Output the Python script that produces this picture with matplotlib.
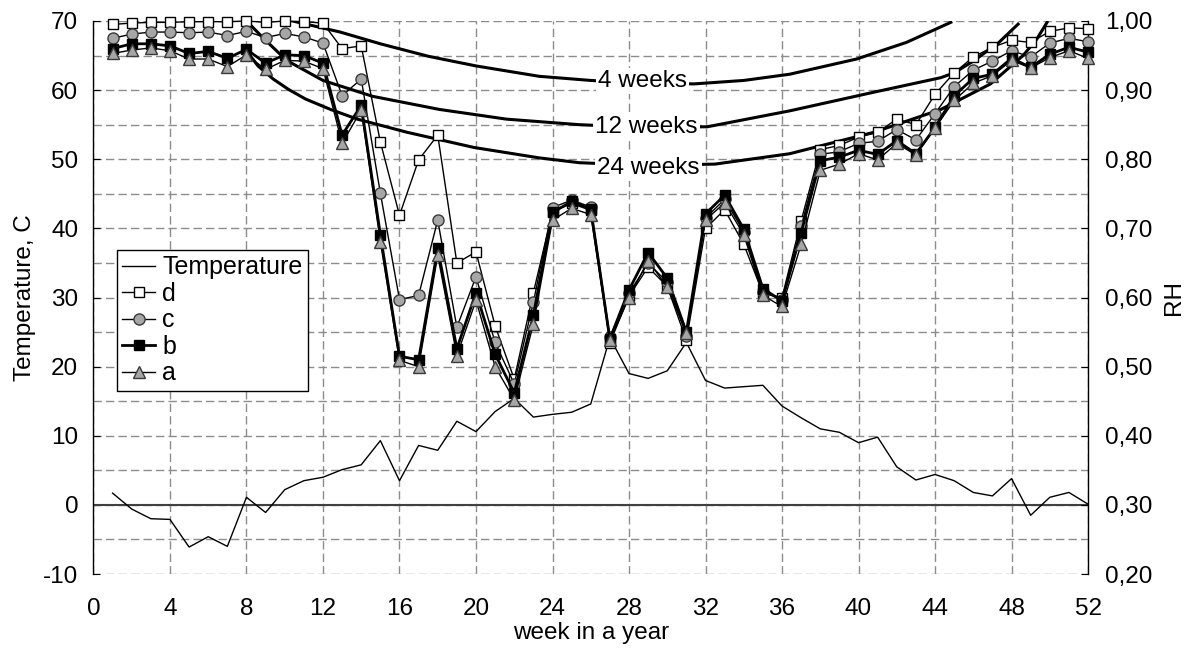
import matplotlib
matplotlib.use("Agg")
import matplotlib.pyplot as plt
from matplotlib.ticker import MultipleLocator, FuncFormatter

plt.rcParams['font.family'] = ['Liberation Sans', 'DejaVu Sans']
plt.rcParams['axes.unicode_minus'] = False

# ---------------- data ----------------
weeks = list(range(1, 53))

temperature = [1.7, -0.6, -2.0, -2.1, -6.1, -4.6, -6.0, 1.1, -1.1, 2.2,
               3.5, 4.0, 5.1, 5.8, 9.3, 3.5, 8.6, 7.9, 12.1, 10.6,
               13.5, 15.4, 12.7, 13.1, 13.4, 14.6, 24.2, 19.0, 18.3, 19.4,
               23.5, 18.0, 16.9, 17.1, 17.3, 14.3, 12.6, 11.0, 10.5, 9.0,
               9.8, 5.5, 3.6, 4.4, 3.5, 1.8, 1.3, 3.8, -1.5, 1.1,
               1.8, 0.1]

rh_d = [0.995, 0.997, 0.998, 0.998, 0.999, 0.999, 0.999, 1.000, 0.998, 1.000,
        0.999, 0.997, 0.960, 0.964, 0.825, 0.719, 0.799, 0.835, 0.650, 0.666,
        0.559, 0.482, 0.607, 0.724, 0.736, 0.726, 0.534, 0.602, 0.644, 0.616,
        0.538, 0.700, 0.727, 0.677, 0.606, 0.600, 0.711, 0.814, 0.820, 0.832,
        0.839, 0.858, 0.850, 0.894, 0.925, 0.948, 0.962, 0.972, 0.969, 0.985,
        0.990, 0.989]
rh_c = [0.975, 0.981, 0.984, 0.984, 0.983, 0.984, 0.979, 0.985, 0.976, 0.982,
        0.977, 0.968, 0.892, 0.916, 0.751, 0.597, 0.603, 0.712, 0.557, 0.630,
        0.535, 0.475, 0.593, 0.730, 0.741, 0.731, 0.543, 0.606, 0.650, 0.622,
        0.545, 0.715, 0.742, 0.695, 0.608, 0.597, 0.703, 0.807, 0.811, 0.823,
        0.826, 0.843, 0.828, 0.866, 0.905, 0.929, 0.942, 0.957, 0.948, 0.968,
        0.975, 0.970]
rh_b = [0.960, 0.967, 0.967, 0.964, 0.953, 0.956, 0.946, 0.959, 0.939, 0.951,
        0.950, 0.939, 0.835, 0.878, 0.691, 0.515, 0.510, 0.671, 0.526, 0.607,
        0.518, 0.462, 0.574, 0.723, 0.739, 0.728, 0.540, 0.611, 0.665, 0.628,
        0.550, 0.721, 0.748, 0.699, 0.613, 0.595, 0.694, 0.798, 0.803, 0.813,
        0.807, 0.827, 0.808, 0.846, 0.892, 0.917, 0.923, 0.946, 0.933, 0.952,
        0.962, 0.955]
rh_a = [0.953, 0.958, 0.961, 0.957, 0.945, 0.945, 0.934, 0.951, 0.930, 0.943,
        0.942, 0.931, 0.823, 0.871, 0.681, 0.509, 0.500, 0.661, 0.516, 0.596,
        0.500, 0.452, 0.562, 0.712, 0.729, 0.720, 0.538, 0.600, 0.653, 0.615,
        0.549, 0.712, 0.737, 0.691, 0.603, 0.587, 0.677, 0.784, 0.793, 0.808,
        0.799, 0.823, 0.806, 0.845, 0.885, 0.910, 0.921, 0.943, 0.932, 0.947,
        0.957, 0.946]

# limit curves (RH)
c4_weeks = [10.1, 12.9, 15.0, 17.5, 20.0, 23.3, 26.0, 28.7, 31.4, 34.0, 36.4, 39.9, 42.5, 44.9]
c4_rh = [1.002, 0.984, 0.967, 0.949, 0.935, 0.920, 0.914, 0.910, 0.909, 0.914, 0.923, 0.945, 0.969, 0.999]

c12_weeks = [8.0, 9.0, 10.1, 12.0, 14.6, 18.1, 21.6, 25.4, 28.8, 32.1, 36.4, 40.8, 44.3, 45.0, 46.0, 47.3, 48.4]
c12_rh = [1.000, 0.972, 0.943, 0.914, 0.891, 0.872, 0.858, 0.850, 0.846, 0.847, 0.870, 0.897, 0.918, 0.925, 0.942, 0.968, 0.997]

c24_weeks = [8.0, 8.6, 9.4, 10.2, 11.1, 12.4, 13.8, 16.4, 19.9, 23.3, 25.4, 29.0, 32.5, 36.4,
             40.8, 44.3, 46.9, 48.6, 49.3, 49.9]
c24_rh = [0.957, 0.935, 0.916, 0.901, 0.887, 0.872, 0.858, 0.839, 0.817, 0.802, 0.795, 0.791,
          0.793, 0.808, 0.839, 0.872, 0.909, 0.950, 0.973, 1.000]

curve_labels = ["4 weeks", "12 weeks", "24 weeks"]
label_weeks = [28.7, 28.9, 29.0]
label_rh = [0.913, 0.846, 0.788]

x_ticks = list(range(0, 53, 4))
t_ticks = list(range(-10, 71, 10))

# ---------------- figure ----------------
FS = 17.5
fig = plt.figure(figsize=(11.92, 6.52), dpi=100)
ax = fig.add_axes([0.0784, 0.1196, 0.8344, 0.8482])
ax.set_xlim(0, 52)
ax.set_ylim(-10, 70)
ax.set_xticks(x_ticks)
ax.set_yticks(t_ticks)
ax.yaxis.set_minor_locator(MultipleLocator(5))

grid_kw = dict(color='#8c8c8c', linewidth=1.0, linestyle=(0, (6, 3)))
ax.grid(axis='y', which='both', **grid_kw)
ax.grid(axis='x', which='major', **grid_kw)
ax.set_axisbelow(True)

for s in ['top', 'bottom', 'right']:
    ax.spines[s].set_visible(False)
ax.spines['left'].set_color('black')
ax.spines['left'].set_linewidth(1.0)

ax.tick_params(axis='y', which='major', direction='in', length=5, pad=11, labelsize=FS)
ax.tick_params(axis='y', which='minor', length=0)
ax.tick_params(axis='x', length=0, pad=17, labelsize=FS)

ax.axhline(0, color='#404040', linewidth=1.5, zorder=1.5)

l_temp, = ax.plot(weeks, temperature, color='black', linewidth=1.0, label='Temperature', zorder=2)

ax.set_xlabel('week in a year', fontsize=FS, labelpad=2)
ax.set_ylabel('Temperature, C', fontsize=FS, labelpad=5)

ax2 = ax.twinx()
ax2.set_ylim(0.2, 1.0)
ax2.set_yticks([0.2 + 0.1 * i for i in range(9)])
ax2.yaxis.set_major_formatter(FuncFormatter(lambda v, p: f"{v:.2f}".replace('.', ',')))
for s in ['top', 'bottom', 'left']:
    ax2.spines[s].set_visible(False)
ax2.spines['right'].set_color('black')
ax2.spines['right'].set_linewidth(1.0)
ax2.tick_params(axis='y', direction='in', length=5, pad=12, labelsize=FS)
ax2.set_ylabel('RH', fontsize=FS, labelpad=8)

# limit curves
for cw, cr in [(c4_weeks, c4_rh), (c12_weeks, c12_rh), (c24_weeks, c24_rh)]:
    ax2.plot(cw, cr, color='black', linewidth=2.2, zorder=2, solid_capstyle='butt')
for txt, lw_, lr in zip(curve_labels, label_weeks, label_rh):
    ax2.text(lw_, lr, txt, ha='center', va='center', fontsize=FS, zorder=6,
             bbox=dict(facecolor='white', edgecolor='none', pad=1.5))

grey = '#a6a6a6'
edge = '#3a3a3a'
l_d, = ax2.plot(weeks, rh_d, color='black', linewidth=1.0, marker='s', markersize=7.5,
                markerfacecolor='white', markeredgecolor='black', markeredgewidth=1.0,
                label='d', zorder=3, clip_on=False)
l_c, = ax2.plot(weeks, rh_c, color='black', linewidth=1.0, marker='o', markersize=8,
                markerfacecolor=grey, markeredgecolor=edge, markeredgewidth=1.0,
                label='c', zorder=3.1, clip_on=False)
l_b, = ax2.plot(weeks, rh_b, color='black', linewidth=2.0, marker='s', markersize=7.5,
                markerfacecolor='black', markeredgecolor='black', markeredgewidth=1.0,
                label='b', zorder=3.2, clip_on=False)
l_a, = ax2.plot(weeks, rh_a, color='black', linewidth=1.0, marker='^', markersize=8.5,
                markerfacecolor=grey, markeredgecolor=edge, markeredgewidth=1.0,
                label='a', zorder=3.3, clip_on=False)

leg = ax2.legend(handles=[l_temp, l_d, l_c, l_b, l_a], loc='upper left',
                 bbox_to_anchor=(0.0236, 0.586), borderaxespad=0, fontsize=18,
                 frameon=True, fancybox=False, edgecolor='black', framealpha=1,
                 handlelength=1.3, handletextpad=0.3, labelspacing=0.1,
                 borderpad=0.22)
leg.get_frame().set_linewidth(1.0)
leg.set_zorder(10)

fig.savefig('out.png', dpi=100)
